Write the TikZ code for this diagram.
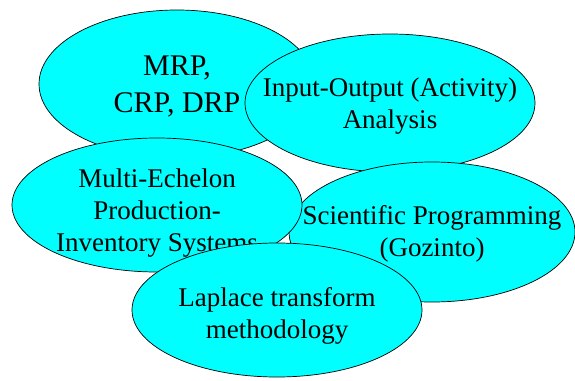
\documentclass[tikz,border=0pt]{standalone}
\usepackage{fontspec}
\setmainfont{Liberation Serif}
\definecolor{aqua}{RGB}{0,255,255}
\begin{document}
\begin{tikzpicture}[x=1pt,y=-1pt,
  blobshape/.style={draw=black, line width=0.7pt, fill=aqua},
  blobtext/.style={inner sep=0pt, align=center, font=\fontsize{27}{32}\selectfont},
  bigtext/.style={blobtext, font=\fontsize{30}{37}\selectfont}]
\useasboundingbox (0,0) rectangle (575,380);
\path[blobshape] (177,84) ellipse [x radius=138pt, y radius=74pt];
\node[bigtext] (mrp) at (177,86) {MRP,\\CRP, DRP};
\path[blobshape] (390,103) ellipse [x radius=145pt, y radius=69pt];
\node[blobtext] (io) at (390,106) {Input-Output (Activity)\\Analysis};
\path[blobshape] (432,232) ellipse [x radius=143pt, y radius=70pt];
\node[blobtext] (sci) at (432,234) {Scientific Programming\\(Gozinto)};
\path[blobshape] (157,205) ellipse [x radius=145pt, y radius=67pt];
\node[blobtext] (multi) at (157,213) {Multi-Echelon\\Production-\\Inventory Systems};
\path[blobshape] (277,310) ellipse [x radius=145pt, y radius=67pt];
\node[blobtext] (lap) at (277,316) {Laplace transform\\methodology};
\end{tikzpicture}
\end{document}
